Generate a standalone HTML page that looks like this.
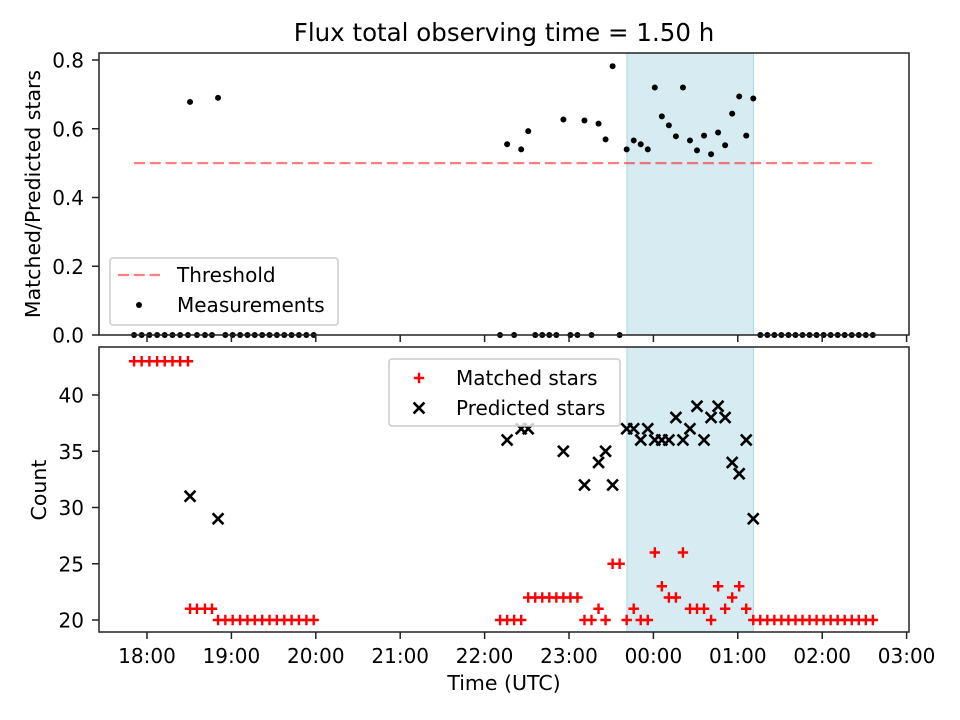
<!DOCTYPE html>
<html><head><meta charset="utf-8">
<style>
html,body{margin:0;padding:0;background:#fff;}
svg{display:block;font-family:"DejaVu Sans","Liberation Sans",sans-serif;}
</style></head>
<body>
<svg id="chart" width="960" height="720" viewBox="0 0 960 720">
<rect x="0" y="0" width="960" height="720" fill="#fff"/>
<text x="504" y="41" text-anchor="middle" font-size="24.5">Flux total observing time = 1.50 h</text>
<g id="gtop"></g>
<g id="gbot"></g>
<text x="504" y="690" text-anchor="middle" font-size="20.5">Time (UTC)</text>
<text transform="translate(40,194) rotate(-90)" text-anchor="middle" font-size="20.5">Matched/Predicted stars</text>
<text transform="translate(46,490) rotate(-90)" text-anchor="middle" font-size="20.5">Count</text>
</svg>
<script>
// minutes after 18:00 UTC
const earlyTimes = [-9.2,-3.8,1.7,7.2,12.6,18.1,23.6,29.1,30.6,35.5,41.2,46.2,50.5,55.7,60.9,66.2,71.4,76.6,81.9,87.1,92.3,97.6,102.8,108.0,113.3,118.5];
const earlyMatched = [43,43,43,43,43,43,43,43,21,21,21,21,20,20,20,20,20,20,20,20,20,20,20,20,20,20];
const earlyPredicted = [null,null,null,null,null,null,null,null,31,null,null,null,29,null,null,null,null,null,null,null,null,null,null,null,null,null];
const earlyRatio = [0,0,0,0,0,0,0,0,0.678,0,0,0,0.69,0,0,0,0,0,0,0,0,0,0,0,0,0];
const lateStart = 251, lateStep = 5;
const lateMatched = [20,20,20,20,22,22,22,22,22,22,22,22,20,20,21,20,25,25,20,21,20,20,26,23,22,22,26,21,21,21,20,23,21,22,23,21,20,20,20,20,20,20,20,20,20,20,20,20,20,20,20,20,20,20];
const latePredicted = [null,36,null,37,37,null,null,null,null,35,null,null,32,null,34,35,32,null,37,37,36,37,36,36,36,38,36,37,39,36,38,39,38,34,33,36,29,null,null,null,null,null,null,null,null,null,null,null,null,null,null,null,null,null];
const lateRatio = [0,0.555,0,0.540,0.593,0,0,0,0,0.627,0,0,0.624,0,0.615,0.569,0.782,0,0.540,0.566,0.555,0.540,0.720,0.636,0.610,0.578,0.720,0.566,0.537,0.580,0.526,0.589,0.552,0.644,0.694,0.580,0.688,0,0,0,0,0,0,0,0,0,0,0,0,0,0,0,0,0];
const threshold = 0.5;
const spanStart = 341.2, spanEnd = 431.1;
const xTickMinutes = [0,60,120,180,240,300,360,420,480,540];
const xTickLabels = ["18:00","19:00","20:00","21:00","22:00","23:00","00:00","01:00","02:00","03:00"];
const topTicks = [0,0.2,0.4,0.6,0.8];
const botTicks = [20,25,30,35,40];

const NS="http://www.w3.org/2000/svg";
function el(tag,attrs,parent){const e=document.createElementNS(NS,tag);for(const k in attrs)e.setAttribute(k,attrs[k]);parent.appendChild(e);return e;}
const L=99,R=909;
const xs = m => 147 + m*84.4/60;
const yt = v => 335 - v*343.75;
const yb = v => 620 - (v-20)*11.25;

const times=[],matched=[],predicted=[],ratio=[];
earlyTimes.forEach((t,i)=>{times.push(t);matched.push(earlyMatched[i]);predicted.push(earlyPredicted[i]);ratio.push(earlyRatio[i]);});
lateMatched.forEach((v,i)=>{times.push(lateStart+lateStep*i);matched.push(v);predicted.push(latePredicted[i]);ratio.push(lateRatio[i]);});

const gTop=document.getElementById('gtop'), gBot=document.getElementById('gbot');
for(const [g,y0,y1] of [[gTop,53,335],[gBot,347,632]]){
  const s=el('rect',{x:xs(spanStart),y:y0,width:xs(spanEnd)-xs(spanStart),height:y1-y0,fill:'#add8e6','fill-opacity':0.5,stroke:'#add8e6','stroke-width':1},g);
  
  
}
const th=el('line',{x1:xs(times[0]),x2:xs(times[times.length-1]),y1:yt(threshold),y2:yt(threshold),stroke:'#ff0000','stroke-opacity':0.5,'stroke-width':2.2,'stroke-dasharray':'11,4.8'},gTop);


times.forEach((t,i)=>{
  const c=el('circle',{cx:xs(t),cy:yt(ratio[i]),r:3,fill:'#000'},gTop);
  
  
});
times.forEach((t,i)=>{
  const x=xs(t),y=yb(matched[i]),h=5.2;
  const p=el('path',{d:`M${x-h},${y}H${x+h}M${x},${y-h}V${y+h}`,stroke:'#ff0000','stroke-width':2.4,fill:'none'},gBot);
  
  
});
times.forEach((t,i)=>{
  if(predicted[i]===null)return;
  const x=xs(t),y=yb(predicted[i]),h=5.4;
  const p=el('path',{d:`M${x-h},${y-h}L${x+h},${y+h}M${x-h},${y+h}L${x+h},${y-h}`,stroke:'#000','stroke-width':2.6,fill:'none'},gBot);
  
  
});
for(const [g,y0,y1,lab] of [[gTop,53,335,false],[gBot,347,632,true]]){
  const f=el('rect',{x:L,y:y0,width:R-L,height:y1-y0,fill:'none',stroke:'#222','stroke-width':1.5},g);
  
  
  xTickMinutes.forEach((m,i)=>{
    el('line',{x1:xs(m),x2:xs(m),y1:y1,y2:y1+7,stroke:'#222','stroke-width':1.5},g);
    if(lab){
      const tx=el('text',{x:xs(m),y:663,'text-anchor':'middle','font-size':20},g);
      tx.textContent=xTickLabels[i];
      
      
    }
  });
}
topTicks.forEach(v=>{
  el('line',{x1:L-7,x2:L,y1:yt(v),y2:yt(v),stroke:'#222','stroke-width':1.5},gTop);
  const t=el('text',{x:L-15,y:yt(v)+7.5,'text-anchor':'end','font-size':20},gTop);
  t.textContent=v.toFixed(1);
  
  
});
botTicks.forEach(v=>{
  el('line',{x1:L-7,x2:L,y1:yb(v),y2:yb(v),stroke:'#222','stroke-width':1.5},gBot);
  const t=el('text',{x:L-15,y:yb(v)+7.5,'text-anchor':'end','font-size':20},gBot);
  t.textContent=v;
  
  
});
function legend(g,x,y,w,h,name){
  const r=el('rect',{x:x,y:y,width:w,height:h,rx:3,fill:'#fff','fill-opacity':0.8,stroke:'#cccccc','stroke-width':1.5},g);
  
  
}
legend(gTop,110,258,228,67,'top-legend');
el('line',{x1:118,x2:160,y1:275,y2:275,stroke:'#ff0000','stroke-opacity':0.5,'stroke-width':2.2,'stroke-dasharray':'11,4.8'},gTop);
const lt1=el('text',{x:177,y:282,'font-size':20},gTop);lt1.textContent='Threshold';


el('circle',{cx:139,cy:305,r:3,fill:'#000'},gTop);
const lt2=el('text',{x:177,y:312,'font-size':20},gTop);lt2.textContent='Measurements';


legend(gBot,389,359,231,67,'bottom-legend');
el('path',{d:'M413.8,378H424.2M419,372.8V383.2',stroke:'#ff0000','stroke-width':2.4},gBot);
const lb1=el('text',{x:456,y:385,'font-size':20},gBot);lb1.textContent='Matched stars';


el('path',{d:'M413.6,402.6L424.4,413.4M413.6,413.4L424.4,402.6',stroke:'#000','stroke-width':2.6},gBot);
const lb2=el('text',{x:456,y:415,'font-size':20},gBot);lb2.textContent='Predicted stars';


</script>
</body></html>
